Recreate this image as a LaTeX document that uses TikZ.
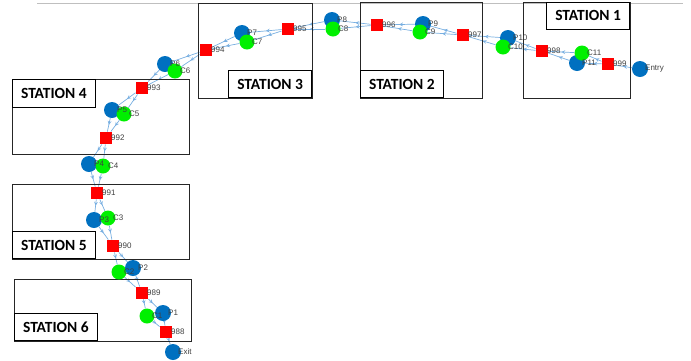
\documentclass[tikz,border=0pt]{standalone}
\usepackage{fontspec}
\setmainfont{Liberation Sans}
\newfontfamily\stationfont{Carlito}
\usetikzlibrary{decorations.markings, arrows}

\definecolor{pblue}{RGB}{0,112,192}
\definecolor{cgreen}{RGB}{0,240,0}
\definecolor{flowblue}{RGB}{120,175,225}
\definecolor{lblgray}{RGB}{64,64,64}

\pgfdeclarelayer{edges}
\pgfsetlayers{edges,main}

\begin{document}
\begin{tikzpicture}[x=1pt, y=-1pt, >=stealth,
    pnode/.style={circle, fill=pblue, inner sep=0pt, minimum size=16pt},
    cnode/.style={circle, fill=cgreen, inner sep=0pt, minimum size=15pt},
    buf/.style={rectangle, fill=red, inner sep=0pt, minimum size=12.5pt},
    lbl/.style={anchor=west, inner sep=0pt, text=lblgray, font=\fontsize{8}{9}\selectfont},
    flow/.style={color=flowblue, line width=0.7pt, postaction={decorate},
      decoration={markings, mark=at position 0.5 with {\arrow{stealth}}}},
    station/.style={draw=black!85, line width=0.8pt},
    tag/.style={draw=black, fill=white, line width=0.8pt, inner sep=0pt,
      minimum width=83pt, minimum height=27pt,
      font=\stationfont\bfseries\fontsize{15.5}{17}\selectfont}]
  \useasboundingbox (0,0) rectangle (691,360);

  % top rule
  \draw[black!25, line width=0.8pt] (37,3) -- (683,3);

  % stations
  \draw[station] (523,2) rectangle (630,98);
  \node[tag, anchor=north east] (t1) at (630,2) {STATION 1};
  \draw[station] (360,2) rectangle (482,98);
  \node[tag, anchor=south west] (t2) at (360,98) {STATION 2};
  \draw[station] (198,3) rectangle (312,98);
  \node[tag, anchor=south east] (t3) at (312,98) {STATION 3};
  \draw[station] (12,79) rectangle (189,154);
  \node[tag, anchor=north west, minimum height=28pt] (t4) at (12,79) {STATION 4};
  \draw[station] (12,184) rectangle (189,259);
  \node[tag, anchor=south west] (t5) at (12,259) {STATION 5};
  \draw[station] (14,279) rectangle (191,341);
  \node[tag, anchor=south west] (t6) at (14,341) {STATION 6};

  % buffers
  \foreach \n/\x/\y in {999/608/64, 998/542/51, 997/463/35, 996/377/25,
      995/288/29, 994/206/50, 993/142/88, 992/106/138, 991/97/193,
      990/113/246, 989/142/293, 988/166/332}
    \node[buf] (s\n) at (\x,\y) {};

  % machines
  \foreach \n/\x/\y in {C2/119/272, C1/147/316}
    \node[cnode] (\n) at (\x,\y) {};
  \foreach \n/\x/\y in {P11/577/63, P10/508/38, P9/423/24, P8/332/20,
      P7/242/33, P6/165/64, P5/112/110, P4/89/164, P3/94/220,
      P2/133/268, P1/163/313}
    \node[pnode] (\n) at (\x,\y) {};
  \foreach \n/\x/\y in {C11/582/53, C10/503/47, C9/420/32, C8/333/29,
      C7/247/42, C6/175/71, C5/124/114, C4/103/166, C3/108/218}
    \node[cnode] (\n) at (\x,\y) {};

  \node[pnode] (entry) at (640,69) {};
  \node[pnode] (exit) at (173,352) {};

  % labels
  \foreach \n in {999,998,997,996,995,994,993,992,991,990,989,988}
    \node[lbl] at ([xshift=5pt]s\n.center) {\n};
  \foreach \n in {P11,P10,P9,P8,P7,P6,P5,P4,P3,P2,P1,C11,C10,C9,C8,C7,C6,C5,C4,C3,C2,C1}
    \node[lbl] at ([xshift=5pt]\n.center) {\n};
  \node[lbl] at ([xshift=5pt]entry.center) {Entry};
  \node[lbl] at ([xshift=5pt]exit.center) {Exit};

  % flow
  \begin{pgfonlayer}{edges}
    \draw[flow] (entry) -- (s999);
    \foreach \i/\a/\b in {11/999/998, 10/998/997, 9/997/996, 8/996/995,
        7/995/994, 6/994/993, 5/993/992, 4/992/991, 3/991/990,
        2/990/989, 1/989/988} {
      \draw[flow] (s\a) -- (P\i);
      \draw[flow] (s\a) -- (C\i);
      \draw[flow] (P\i) -- (s\b);
      \draw[flow] (C\i) -- (s\b);
    }
    \draw[flow] (s988) -- (exit);
  \end{pgfonlayer}
\end{tikzpicture}
\end{document}
